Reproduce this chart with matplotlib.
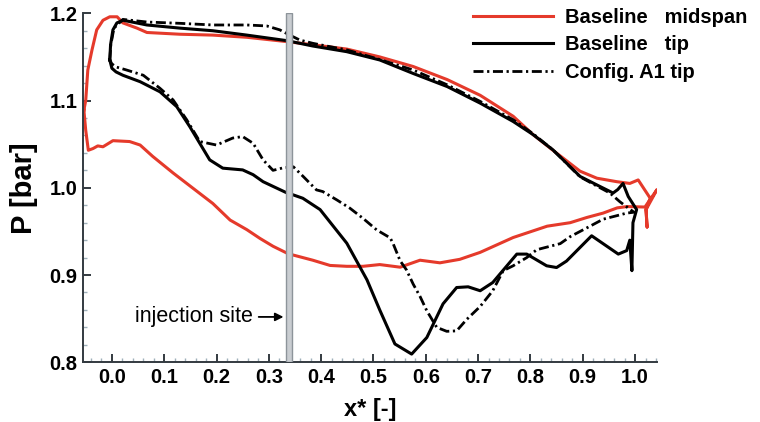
import numpy as np
import matplotlib
matplotlib.use('Agg')
import matplotlib.pyplot as plt

plt.rcParams['font.family'] = ['Liberation Sans', 'DejaVu Sans']

# Baseline midspan (closed loop: leading edge -> upper side -> trailing edge -> lower side)
mid_x = [-0.0535, -0.050, -0.046, -0.038, -0.029, -0.017, -0.004, 0.010, 0.021, 0.048,
         0.067, 0.130, 0.193, 0.258, 0.335, 0.384, 0.449, 0.512, 0.576, 0.641,
         0.704, 0.767, 0.805, 0.843, 0.895, 0.927, 0.965, 0.990, 1.006, 1.029,
         1.021, 1.023, 1.021, 1.042, 1.019, 1.015, 0.985, 0.966, 0.939, 0.908,
         0.876, 0.832, 0.767, 0.704, 0.665, 0.627, 0.589, 0.551, 0.512, 0.480,
         0.449, 0.417, 0.384, 0.346, 0.335, 0.308, 0.283, 0.258, 0.226, 0.193,
         0.155, 0.117, 0.078, 0.054, 0.034, 0.002, -0.017, -0.027, -0.036, -0.045,
         -0.050, -0.0535]
mid_p = [1.089, 1.100, 1.135, 1.158, 1.181, 1.192, 1.196, 1.196, 1.189, 1.183,
         1.178, 1.176, 1.175, 1.1725, 1.1675, 1.164, 1.159, 1.150, 1.139, 1.124,
         1.106, 1.082, 1.061, 1.043, 1.019, 1.011, 1.007, 1.005, 1.009, 0.988,
         0.975, 0.955, 0.975, 0.998, 0.978, 0.978, 0.9785, 0.977, 0.971, 0.966,
         0.960, 0.956, 0.943, 0.926, 0.918, 0.914, 0.917, 0.909, 0.912, 0.910,
         0.910, 0.911, 0.917, 0.923, 0.925, 0.933, 0.942, 0.952, 0.963, 0.982,
         0.9995, 1.017, 1.036, 1.049, 1.053, 1.054, 1.047, 1.048, 1.045, 1.043,
         1.066, 1.089]

# Baseline tip
tip_x = [-0.004, -0.0025, 0.002, 0.0096, 0.0216, 0.067, 0.130, 0.193, 0.258, 0.335,
         0.384, 0.449, 0.512, 0.576, 0.641, 0.704, 0.767, 0.805, 0.843, 0.895,
         0.927, 0.958, 0.967, 0.977, 0.987, 1.003, 0.996, 0.994, 0.990, 0.984,
         0.968, 0.917, 0.869, 0.850, 0.831, 0.793, 0.774, 0.728, 0.704, 0.681,
         0.659, 0.633, 0.602, 0.573, 0.541, 0.512, 0.4876, 0.449, 0.398, 0.365,
         0.346, 0.335, 0.3155, 0.289, 0.270, 0.250, 0.212, 0.187, 0.168, 0.149,
         0.124, 0.092, 0.054, 0.021, 0.008, 0.0, -0.004]
tip_p = [1.1465, 1.164, 1.181, 1.189, 1.192, 1.1866, 1.183, 1.180, 1.175, 1.1686,
         1.1625, 1.156, 1.1465, 1.131, 1.116, 1.097, 1.076, 1.061, 1.0435, 1.013,
         1.0033, 0.994, 0.998, 1.005, 0.990, 0.975, 0.960, 0.905, 0.940, 0.928,
         0.924, 0.945, 0.916, 0.9086, 0.9106, 0.924, 0.924, 0.8914, 0.882, 0.8865,
         0.8857, 0.867, 0.8284, 0.8094, 0.821, 0.860, 0.8945, 0.9365, 0.975, 0.988,
         0.992, 0.994, 0.9995, 1.007, 1.015, 1.0205, 1.0225, 1.032, 1.051, 1.070,
         1.093, 1.110, 1.1216, 1.129, 1.1328, 1.137, 1.1465]

# Config. A1 tip
a1_x = [-0.004, -0.002, 0.004, 0.021, 0.067, 0.130, 0.193, 0.258, 0.296, 0.321,
        0.340, 0.359, 0.384, 0.449, 0.512, 0.576, 0.641, 0.704, 0.767, 0.805,
        0.843, 0.895, 0.927, 0.952, 0.971, 0.9866, 0.998, 0.984, 0.965, 0.939,
        0.914, 0.876, 0.857, 0.812, 0.793, 0.767, 0.748, 0.728, 0.704, 0.678,
        0.659, 0.640, 0.621, 0.602, 0.589, 0.576, 0.563, 0.551, 0.538, 0.532,
        0.506, 0.480, 0.455, 0.430, 0.403, 0.391, 0.366, 0.347, 0.327, 0.308,
        0.289, 0.270, 0.250, 0.231, 0.200, 0.168, 0.143, 0.117, 0.092, 0.060,
        0.028, 0.008, 0.0, -0.004]
a1_p = [1.1465, 1.164, 1.183, 1.193, 1.190, 1.1885, 1.1866, 1.1866, 1.1855, 1.181,
        1.175, 1.1694, 1.1656, 1.158, 1.147, 1.135, 1.118, 1.099, 1.078, 1.062,
        1.0435, 1.0125, 1.002, 0.994, 0.984, 0.977, 0.972, 0.971, 0.968, 0.964,
        0.956, 0.944, 0.936, 0.929, 0.920, 0.9106, 0.905, 0.882, 0.864, 0.849,
        0.836, 0.8355, 0.840, 0.859, 0.8755, 0.8895, 0.906, 0.9163, 0.9354, 0.9426,
        0.9518, 0.965, 0.9766, 0.9861, 0.9957, 0.9976, 1.0128, 1.024, 1.0228, 1.020,
        1.032, 1.051, 1.0587, 1.057, 1.049, 1.053, 1.078, 1.1007, 1.114, 1.129,
        1.135, 1.1385, 1.142, 1.1465]

labels = ['Baseline   midspan', 'Baseline   tip', 'Config. A1 tip']
injection_x = (0.333, 0.344)

fig = plt.figure(figsize=(7.6, 4.22), dpi=100)
ax = fig.add_axes([0.109, 0.1415, 0.7555, 0.827])

red = '#e53a2b'
ax.plot(mid_x, mid_p, color=red, lw=2.2, label=labels[0], zorder=2)
ax.plot(tip_x, tip_p, color='black', lw=2.2, label=labels[1], zorder=3)
ax.plot(a1_x, a1_p, color='black', lw=2.0, dashes=(3.6, 1.3, 0.8, 1.3),
        label=labels[2], zorder=4)

ax.axvspan(*injection_x, facecolor='#c9cdd1', edgecolor='#8d949a', lw=1.0, zorder=5)
ax.annotate('injection site', xy=(0.328, 0.852), xytext=(0.27, 0.852),
            ha='right', va='center', fontsize=15.5,
            arrowprops=dict(arrowstyle='-|>', color='black', lw=1.3,
                            shrinkA=2, shrinkB=0, mutation_scale=12))

ax.set_xlim(-0.0555, 1.042)
ax.set_ylim(0.8, 1.2)
ax.set_xticks(np.arange(0, 1.01, 0.1))
ax.set_xticks(np.arange(-0.04, 1.041, 0.02), minor=True)
ax.set_yticks(np.arange(0.8, 1.201, 0.1))
ax.set_yticks(np.arange(0.8, 1.201, 0.02), minor=True)
ax.xaxis.set_major_formatter(matplotlib.ticker.FormatStrFormatter('%.1f'))
ax.yaxis.set_major_formatter(matplotlib.ticker.FormatStrFormatter('%.1f'))

for s in ['top', 'right']:
    ax.spines[s].set_visible(False)
for s in ['left', 'bottom']:
    ax.spines[s].set_linewidth(1.4)
    ax.spines[s].set_color('#333a40')

ax.tick_params(which='major', direction='in', length=6, width=1.4, color='#333a40',
               labelsize=14.5, pad=4)
ax.tick_params(which='minor', direction='in', length=3, width=1.0, color='#9fb0ba')
for lab in ax.get_xticklabels() + ax.get_yticklabels():
    lab.set_fontweight('bold')

ax.set_xlabel('x* [-]', fontsize=17, fontweight='bold', labelpad=8)
ax.set_ylabel('P [bar]', fontsize=21, fontweight='bold', labelpad=8)

ax.legend(loc='upper left', bbox_to_anchor=(473 / 760, 1 - 8 / 422),
          bbox_transform=fig.transFigure, frameon=False,
          prop={'weight': 'bold', 'size': 14.5}, handlelength=3.95,
          handletextpad=0.6, labelspacing=0.42, borderpad=0, borderaxespad=0)

fig.savefig('out.png', dpi=100)
